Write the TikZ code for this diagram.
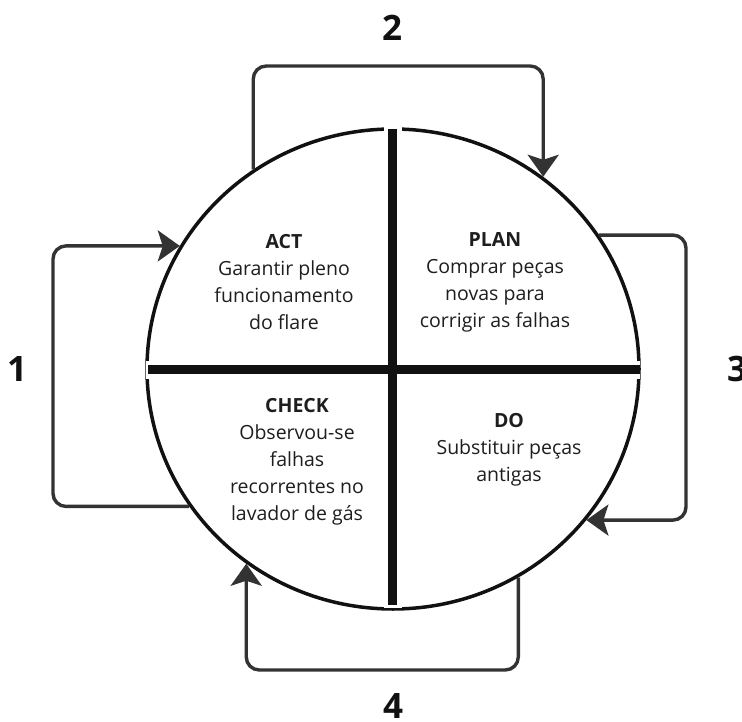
\documentclass[tikz,border=0pt]{standalone}
\usepackage{fontspec}
\setmainfont{Open Sans}
\usetikzlibrary{arrows.meta,shapes.geometric}

\definecolor{ink}{HTML}{111111}
\definecolor{flowgray}{HTML}{333333}
\definecolor{textgray}{HTML}{1E1E1E}

\tikzset{
  ring/.style={ellipse, draw=ink, line width=3.5pt, minimum width=492pt,
    minimum height=480pt, inner sep=0pt},
  bar/.style={draw=ink, line width=9pt},
  barcut/.style={draw=white, line width=18pt},
  flow/.style={draw=flowgray, line width=3.4pt, rounded corners=13pt,
    -{Stealth[length=22pt,width=31pt,inset=5pt]}},
  phase/.style={align=center, text=textgray, inner sep=0pt,
    font=\fontsize{19.5pt}{27pt}\selectfont},
  stepno/.style={text=ink, inner sep=0pt,
    font=\fontsize{35pt}{40pt}\selectfont\bfseries}
}

\begin{document}
\begin{tikzpicture}[x=1pt,y=-1pt]
  \useasboundingbox[fill=white] (0,0) rectangle (742,722);

  % the PDCA wheel
  \node[ring] (cycle) at (393,369) {};

  % cross dividing the wheel into four quadrants
  \coordinate (vt) at (392.5,126);
  \coordinate (vb) at (392.5,608);
  \coordinate (hl) at (146,369.5);
  \coordinate (hr) at (640,369.5);
  \path[barcut] (vt) -- (vb);
  \path[barcut] (hl) -- (hr);
  \draw[bar] (392.5,129) -- (392.5,605);
  \draw[bar] (148,369.5) -- (640,369.5);

  % quadrant texts
  \node[phase] (act) at (284,282) {\textbf{ACT}\\Garantir pleno\\funcionamento\\do flare};
  \node[phase] (plan) at (495,282.5) {\textbf{PLAN}\\Comprar peças\\novas para\\corrigir as falhas};
  \node[phase] (check) at (297,461.5) {\textbf{CHECK}\\Observou-se\\falhas\\recorrentes no\\lavador de gás};
  \node[phase] (do) at (509,450) {\textbf{DO}\\Substituir peças\\antigas};

  % corner rows/columns of the loop arrows
  \coordinate (top) at (0,66);
  \coordinate (west) at (53,369);
  \coordinate (east) at (686,369);
  \coordinate (bottom) at (392,670);

  % loop arrows around the wheel
  \draw[flow] (cycle.125) -- (cycle.125 |- top) -| (cycle.52);
  \draw[flow] (cycle.33) -| (east) |- (cycle.322.4);
  \draw[flow] (cycle.301.3) |- (bottom) -| (cycle.233.5);
  \draw[flow] (cycle.214.8) -| (west) |- (cycle.150.4);

  % step numbers
  \node[stepno] (n2) at (392,28) {2};
  \node[stepno] (n1) at (17,369) {1};
  \node[stepno] (n3) at (737,369) {3};
  \node[stepno] (n4) at (393,706) {4};
\end{tikzpicture}
\end{document}
